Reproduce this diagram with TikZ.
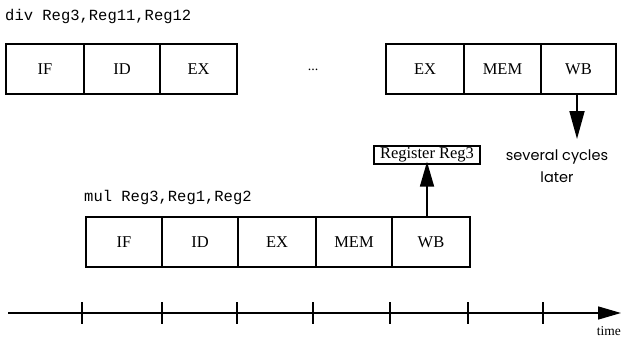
\documentclass[tikz,border=0pt]{standalone}
\usepackage{fontspec}
\setmainfont{Liberation Serif}
\newfontfamily\codefont{Liberation Mono}
\newfontfamily\avant{Poppins}
\usetikzlibrary{arrows.meta}
\begin{document}
\begin{tikzpicture}[x=1pt,y=-1pt,
  stage/.style={draw, line width=1.2pt, minimum height=50pt, inner sep=0pt, font=\fontsize{16.5}{18}\selectfont},
  codelabel/.style={anchor=base west, inner sep=0pt, font=\codefont\fontsize{15.5}{18}\selectfont},
  bigarrow/.style={line width=1.8pt, -{Triangle[length=28pt,width=15pt]}},
  tick/.style={line width=1.5pt}]
\useasboundingbox (0,0) rectangle (621,337);
% top instruction
\node[codelabel] (divlbl) at (5,21) {div Reg3,Reg11,Reg12};
\node[stage, minimum width=78pt] (tif) at (45,69) {IF};
\node[stage, minimum width=76pt] (tid) at (122,69) {ID};
\node[stage, minimum width=77pt] (tex) at (198.5,69) {EX};
\node[inner sep=0pt, font=\fontsize{14}{16}\selectfont] (dots) at (313,70) {...};
\node[stage, minimum width=78pt] (tex2) at (425,69) {EX};
\node[stage, minimum width=77pt] (tmem) at (502.5,69) {MEM};
\node[stage, minimum width=75pt] (twb) at (578.5,69) {WB};
\coordinate (wbend) at (577,139);
\draw[bigarrow] (twb.south -| wbend) -- (wbend);
\node[align=center, inner sep=0pt, font=\avant\fontsize{14.5}{22}\selectfont] (later) at (557,166) {several cycles\\later};
% bottom instruction
\node[codelabel] (mullbl) at (84,201) {mul Reg3,Reg1,Reg2};
\node[stage, minimum width=76pt] (bif) at (124,242) {IF};
\node[stage, minimum width=76pt] (bid) at (200,242) {ID};
\node[stage, minimum width=78pt] (bex) at (277,242) {EX};
\node[stage, minimum width=76pt] (bmem) at (354,242) {MEM};
\node[stage, minimum width=78pt] (bwb) at (431,242) {WB};
\node[draw, line width=1.4pt, minimum width=106pt, minimum height=18pt, inner sep=1pt, font=\fontsize{16.5}{18}\selectfont] (reg) at (427,155) {Register Reg3};
\draw[line width=1.8pt, -{Triangle[length=25pt,width=14pt]}] (bwb.north -| reg.south) -- ([yshift=3pt]reg.south);
% time axis
\coordinate (axs) at (8,313);
\coordinate (axe) at (621,313);
\draw[line width=1.5pt, -{Triangle[length=23pt,width=13pt]}] (axs) -- (axe);
\foreach \x in {82,162,237,313,390,468,543}{
  \draw[tick] (\x,302) -- (\x,324);
}
\node[anchor=east, inner sep=0pt, font=\fontsize{13.5}{14}\selectfont] (timelbl) at (621,331) {time};
\end{tikzpicture}
\end{document}
